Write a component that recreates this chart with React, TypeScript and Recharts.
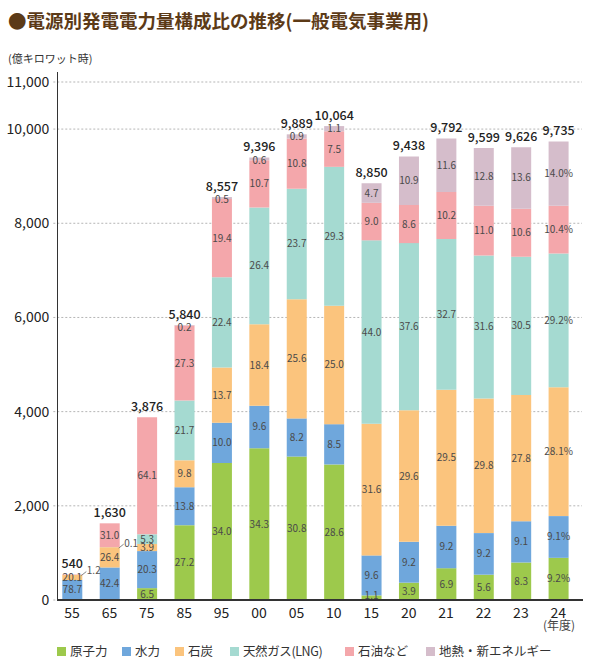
import React from "react";
import { BarChart, Bar, XAxis, YAxis, CartesianGrid, LabelList } from "recharts";

// ─── Data (億キロワット時 / 構成比 %) ─────────────────────────────────────

const years = ["55", "65", "75", "85", "95", "00", "05", "10", "15", "20", "21", "22", "23", "24"];
const totals = [540, 1630, 3876, 5840, 8557, 9396, 9889, 10064, 8850, 9438, 9792, 9599, 9626, 9735];
const nuclear = [0, 0, 6.5, 27.2, 34.0, 34.3, 30.8, 28.6, 1.1, 3.9, 6.9, 5.6, 8.3, 9.2];
const hydro = [78.7, 42.4, 20.3, 13.8, 10.0, 9.6, 8.2, 8.5, 9.6, 9.2, 9.2, 9.2, 9.1, 9.1];
const coal = [20.1, 26.4, 3.9, 9.8, 13.7, 18.4, 25.6, 25.0, 31.6, 29.6, 29.5, 29.8, 27.8, 28.1];
const lng = [0, 0.1, 5.3, 21.7, 22.4, 26.4, 23.7, 29.3, 44.0, 37.6, 32.7, 31.6, 30.5, 29.2];
const oil = [1.2, 31.0, 64.1, 27.3, 19.4, 10.7, 10.8, 7.5, 9.0, 8.6, 10.2, 11.0, 10.6, 10.4];
const renew = [0, 0, 0, 0.2, 0.5, 0.6, 0.9, 1.1, 4.7, 10.9, 11.6, 12.8, 13.6, 14.0];
const yTicks = [0, 2000, 4000, 6000, 8000, 10000, 11000];

const series = [
  { key: "nuclear", name: "原子力", color: "#9dc94c", pct: nuclear },
  { key: "hydro", name: "水力", color: "#6fa7dc", pct: hydro },
  { key: "coal", name: "石炭", color: "#fbc47d", pct: coal },
  { key: "lng", name: "天然ガス(LNG)", color: "#a5dad1", pct: lng },
  { key: "oil", name: "石油など", color: "#f4a7ab", pct: oil },
  { key: "renew", name: "地熱・新エネルギー", color: "#d5bdcb", pct: renew },
];

// legend item positions (px from left)
const legendLeft = [57, 122, 175, 230, 345, 426];

const rows = years.map((year, i) => {
  const row: Record<string, string | number> = { year };
  // the topmost non-empty segment carries the total label
  let topIdx = 0;
  series.forEach((s, j) => {
    if (s.pct[i] > 0) topIdx = j;
  });
  series.forEach((s, j) => {
    const p = s.pct[i];
    row[s.key] = (totals[i] * p) / 100;
    row[s.key + "Label"] = p > 0 ? p.toFixed(1) + (i === years.length - 1 ? "%" : "") : "";
    row[s.key + "Total"] = j === topIdx ? totals[i] : "";
  });
  return row;
});

const FONT = '"Noto Sans CJK JP", "Noto Sans", sans-serif';

// ─── Labels ────────────────────────────────────────────────────────────────

function segmentLabel(pos: number) {
  return (props: any) => {
    const { x, y, width, height, value } = props;
    if (!value) return null;
    const isTop = pos === series.length - 1;
    if (!isTop && height < 2) {
      // tiny segment: label outside with leader line
      const rx = x + width;
      return (
        <g>
          <line x1={rx - 1} y1={y + 1} x2={rx + 4} y2={y - 3} stroke="#666" strokeWidth={0.8} />
          <text x={rx + 4.5} y={y - 4} dy="0.35em" fontSize={10} fill="#555" fontFamily={FONT}>
            {value}
          </text>
        </g>
      );
    }
    let cy = y + height / 2;
    if (isTop) cy = y + Math.max(height / 2, 2.5);
    if (pos === 0) cy = Math.min(cy, y + height - 4.5);
    return (
      <text x={x + width / 2} y={cy} dy="0.35em" textAnchor="middle" fontSize={10} fill="#4a4a4a" fontFamily={FONT}>
        {value}
      </text>
    );
  };
}

const totalLabel = (props: any) => {
  const { x, y, width, value } = props;
  if (value === "" || value == null) return null;
  return (
    <text x={x + width / 2} y={y - 10.5} dy="0.35em" textAnchor="middle" fontSize={12.5} fontWeight={500} fill="#222" fontFamily={FONT}>
      {Number(value).toLocaleString("en-US")}
    </text>
  );
};

// ─── Chart ─────────────────────────────────────────────────────────────────

export default function App() {
  return (
    <div style={{ position: "absolute", left: 0, top: 0, width: 600, height: 662, fontFamily: FONT, background: "#fff" }}>
      <div style={{ position: "absolute", left: 8, top: 9, lineHeight: "22px", fontSize: 18.5, fontWeight: 700, color: "#5c3a17", whiteSpace: "nowrap" }}>
        ●電源別発電電力量構成比の推移(一般電気事業用)
      </div>
      <div style={{ position: "absolute", left: 8, top: 52, lineHeight: "12px", fontSize: 11, color: "#333", whiteSpace: "nowrap" }}>
        (億キロワット時)
      </div>

      <BarChart width={600} height={662} data={rows} margin={{ top: 82, right: 18, left: 0, bottom: 32 }}>
        <CartesianGrid vertical={false} strokeDasharray="2 2" stroke="#b5b5b5" />
        <XAxis
          dataKey="year"
          axisLine={false}
          tickLine={false}
          height={30}
          interval={0}
          padding={{ left: 0, right: 5 }}
          tick={{ fontSize: 14, fill: "#222", fontFamily: FONT }}
        />
        <YAxis
          width={53.3}
          domain={[0, 11000]}
          ticks={yTicks}
          interval={0}
          axisLine={false}
          tickLine={false}
          tickSize={2}
          tickMargin={2}
          tickFormatter={(v: number) => v.toLocaleString("en-US")}
          tick={{ fontSize: 14, fill: "#222", fontFamily: FONT }}
        />
        {series.map((s, i) => (
          <Bar key={s.key} dataKey={s.key} name={s.name} stackId="a" fill={s.color} barSize={20} isAnimationActive={false}>
            <LabelList dataKey={s.key + "Label"} content={segmentLabel(i)} />
            <LabelList dataKey={s.key + "Total"} content={totalLabel} />
          </Bar>
        ))}
      </BarChart>

      {/* axis lines */}
      <div style={{ position: "absolute", left: 56.5, top: 72, width: 1.2, height: 528, background: "#333" }} />
      <div style={{ position: "absolute", left: 56.5, top: 599.3, width: 526, height: 1.5, background: "#333" }} />

      <div style={{ position: "absolute", left: 543, top: 619, lineHeight: "12px", fontSize: 12, color: "#444", whiteSpace: "nowrap" }}>
        (年度)
      </div>

      {series.map((s, i) => (
        <div key={s.key} style={{ position: "absolute", left: legendLeft[i], top: 644, height: 14, display: "flex", alignItems: "center", whiteSpace: "nowrap" }}>
          <span style={{ display: "inline-block", width: 9, height: 9, background: s.color, marginRight: 4 }} />
          <span style={{ fontSize: 12.5, lineHeight: "14px", color: "#333", letterSpacing: s.key === "lng" ? -0.4 : 0 }}>{s.name}</span>
        </div>
      ))}
    </div>
  );
}
